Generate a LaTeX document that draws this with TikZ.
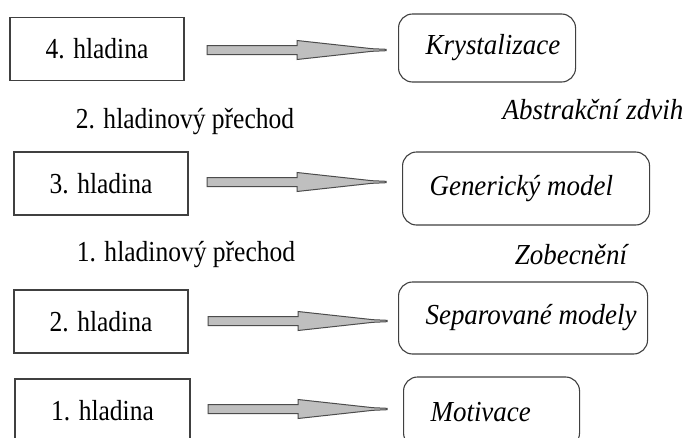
\documentclass[tikz,border=0pt]{standalone}
\usepackage{fontspec}
\setmainfont[FakeStretch=0.88]{Liberation Serif}
\newfontfamily\itfam[FakeStretch=0.93]{Liberation Serif}
\usetikzlibrary{calc}
\newcommand\blkarrow[1]{%
  \draw[arr] ($(#1)+(0,-4.5)$) -- ($(#1)+(90,-4.5)$) -- ($(#1)+(90,-9.5)$)
    -- ($(#1)+(165,-1.3)$) -- ($(#1)+(179,-0.7)$) -- ($(#1)+(179,0.7)$)
    -- ($(#1)+(165,1.3)$) -- ($(#1)+(90,9.5)$) -- ($(#1)+(90,4.5)$)
    -- ($(#1)+(0,4.5)$) -- cycle;}
\newcommand\rtext[2]{\makebox[#1][l]{#2}}
\begin{document}
\begin{tikzpicture}[x=1pt,y=-1pt,
  lvl/.style={draw=black!75, line width=1.1pt, minimum width=174pt,
    minimum height=63pt, inner sep=0pt, font=\fontsize{29}{33}\selectfont},
  res/.style={draw=black!75, line width=1.1pt, rounded corners=14pt,
    inner xsep=27pt, inner ysep=0pt, anchor=west,
    font=\fontsize{29}{33}\itfam\itshape},
  lbl/.style={inner sep=0pt, font=\fontsize{29}{33}\selectfont},
  ilbl/.style={inner sep=0pt, font=\fontsize{29}{33}\itfam\itshape},
  arr/.style={fill=black!25, draw=black!70, line width=1pt, line join=miter}]
\clip (0,0) rectangle (686,437);
\fill[white] (0,0) rectangle (686,437);

% level boxes
\node[lvl] (b4) at (97,49) {4. hladina};
\node[lvl] (b3) at (101,183.5) {3. hladina};
\node[lvl] (b2) at (101,321.5) {2. hladina};
\node[lvl, minimum width=175pt] (b1) at (102.5,410.5) {1. hladina};

% result boxes
\node[res, minimum height=68pt] (r4) at (398,48) {\rtext{123pt}{Krystalizace}};
\node[res, minimum height=73pt] (r3) at (402,188.5) {\rtext{193pt}{Generický model}};
\node[res, minimum height=72pt] (r2) at (398,318) {\rtext{195pt}{Separované modely}};
\node[res, minimum height=70pt] (r1) at (403,412) {\rtext{122pt}{Motivace}};

% labels
\node[lbl] (t2) at (185,122) {2. hladinový přechod};
\node[ilbl] (z2) at (593,110) {Abstrakční zdvih};
\node[lbl] (t1) at (186,255) {1. hladinový přechod};
\node[ilbl] (z1) at (571,255) {Zobecnění};

% arrows
\coordinate (s4) at (207,50);
\coordinate (s3) at (207,182);
\coordinate (s2) at (208,321);
\coordinate (s1) at (208,409);
\blkarrow{s4}
\blkarrow{s3}
\blkarrow{s2}
\blkarrow{s1}
\end{tikzpicture}
\end{document}
